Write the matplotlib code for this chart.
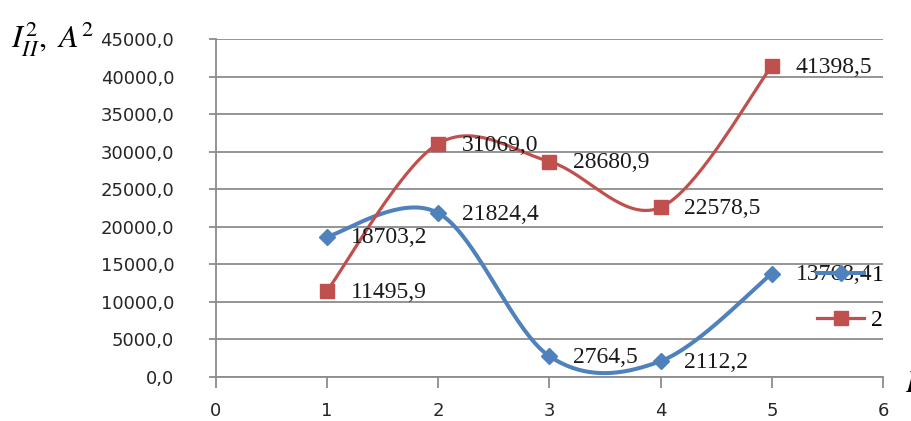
import numpy as np
import matplotlib
matplotlib.use("Agg")
from matplotlib import pyplot as plt
from matplotlib.lines import Line2D

# data
x_points = [1, 2, 3, 4, 5]
series_1 = [18703.2, 21824.4, 2764.5, 2112.2, 13768.4]
series_2 = [11495.9, 31069.0, 28680.9, 22578.5, 41398.5]
series_names = ["1", "2"]
y_ticks = list(range(0, 45001, 5000))
x_ticks = [0, 1, 2, 3, 4, 5, 6]

BLUE = "#4F81BD"
RED = "#C0504D"
GRID = "#8C8C8C"


def smooth(xs, ys, n=40):
    """Excel-like smoothed line (Catmull-Rom as cubic Bezier)."""
    p = np.column_stack([xs, ys]).astype(float)
    p = np.vstack([p[0], p, p[-1]])
    out = []
    t = np.linspace(0, 1, n)[:, None]
    for i in range(1, len(p) - 2):
        p0, p3 = p[i], p[i + 1]
        c1 = p0 + (p[i + 1] - p[i - 1]) / 6
        c2 = p3 - (p[i + 2] - p[i]) / 6
        seg = ((1 - t) ** 3) * p0 + 3 * ((1 - t) ** 2) * t * c1 \
            + 3 * (1 - t) * t ** 2 * c2 + t ** 3 * p3
        out.append(seg)
    out = np.vstack(out)
    return out[:, 0], out[:, 1]


def fmt(v):
    return ("%.1f" % v).replace(".", ",")


plt.rcParams["mathtext.fontset"] = "stix"
fig = plt.figure(figsize=(9.12, 4.21), dpi=100)
ax = fig.add_axes([0.2368, 0.1045, 0.9682 - 0.2368, 0.9074 - 0.1045])

for ys, col, mk, ms, lw in [(series_1, BLUE, "D", 8, 2.9),
                            (series_2, RED, "s", 10, 2.3)]:
    sx, sy = smooth(x_points, ys)
    ax.plot(sx, sy, color=col, lw=lw, solid_capstyle="round", zorder=3)
    ax.plot(x_points, ys, ls="none", marker=mk, ms=ms, color=col,
            markeredgecolor=col, zorder=4)
    for xv, yv in zip(x_points, ys):
        ax.annotate(fmt(yv), (xv, yv), xytext=(17, -1), textcoords="offset points",
                    ha="left", va="center", fontsize=17,
                    family="Liberation Serif", color="#1a1a1a", zorder=5)

ax.set_xlim(0, 6)
ax.set_ylim(0, 45000)
ax.set_xticks(x_ticks)
ax.set_yticks(y_ticks)
ax.set_yticklabels([fmt(v) for v in y_ticks])
ax.grid(axis="y", color=GRID, lw=1.3)
ax.set_axisbelow(True)
for s in ["top", "right"]:
    ax.spines[s].set_visible(False)
for s in ["left", "bottom"]:
    ax.spines[s].set_color(GRID)
    ax.spines[s].set_linewidth(1.3)
ax.tick_params(axis="y", length=5, width=1.3, color=GRID, pad=25,
               labelsize=13, labelcolor="#262626")
ax.tick_params(axis="x", length=8, width=1.3, color=GRID, pad=10,
               labelsize=13, labelcolor="#262626")

handles = [Line2D([], [], color=BLUE, lw=2.9, marker="D", ms=8),
           Line2D([], [], color=RED, lw=2.3, marker="s", ms=10)]
leg = fig.legend(handles, series_names, loc="upper left",
                 bbox_to_anchor=(0.896, 0.372), frameon=False,
                 prop={"family": "Liberation Serif", "size": 17},
                 handlelength=2.0, labelspacing=1.0, handletextpad=0.3,
                 borderaxespad=0, borderpad=0)

fig.text(0.012, 0.955, r"$I_{II}^{2},\ A^{2}$", fontsize=23, ha="left", va="top")
# x axis label, cut off by the right edge in the original
fig.text(0.992, 0.09, r"$I$", fontsize=22, ha="left", va="center")

fig.savefig("out.png", dpi=100)
